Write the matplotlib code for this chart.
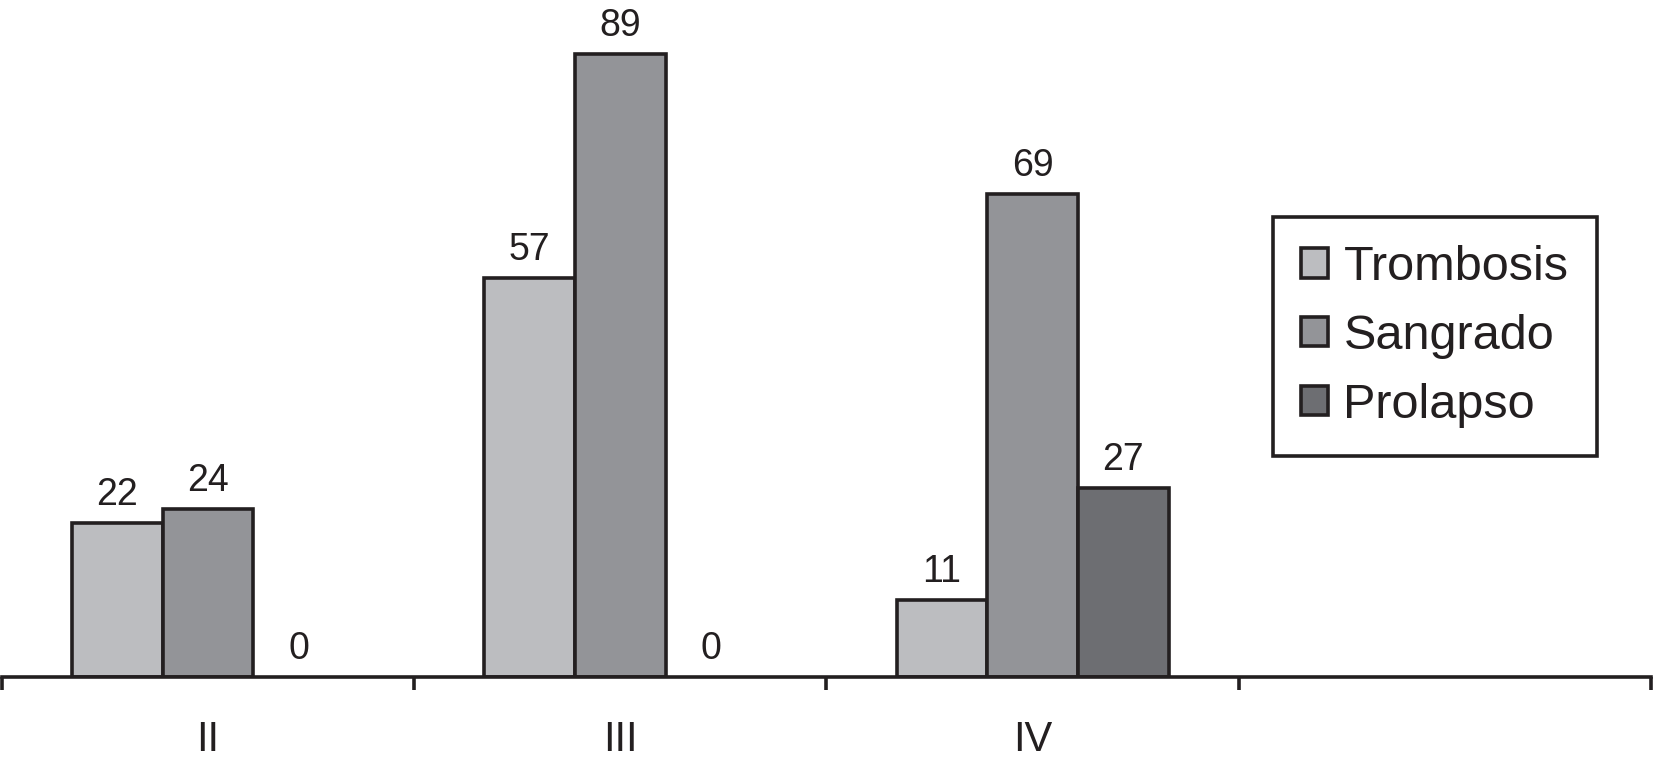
import matplotlib
matplotlib.use('Agg')
import matplotlib.pyplot as plt
from matplotlib.patches import Patch
import numpy as np

plt.rcParams['font.family'] = ['Liberation Sans', 'DejaVu Sans']

# Datos
categorias = ['II', 'III', 'IV', '']
trombosis = [22, 57, 11]
sangrado = [24, 89, 69]
prolapso = [0, 0, 27]
series = ['Trombosis', 'Sangrado', 'Prolapso']
colores = ['#bcbdc0', '#939498', '#6d6e72']

W, H = 1653, 761
fig = plt.figure(figsize=(W / 100, H / 100), dpi=100)
ax = fig.add_axes([2 / W, 84.3 / H, 1649 / W, 676.7 / H])

ancho = 0.22
x = np.arange(len(trombosis))
borde = '#231f20'
lw = 2.6

for i, (nombre, valores, color) in enumerate(zip(series, [trombosis, sangrado, prolapso], colores)):
  barras = ax.bar(x + (i - 1) * ancho, valores, ancho, color=color, edgecolor=borde,
                  linewidth=lw, zorder=2)
  # las barras en cero no se ven
  for b, v in zip(barras, valores):
    if v == 0:
      b.set_visible(False)
  ax.bar_label(barras, labels=[str(v) for v in valores], padding=7,
               fontsize=27, color=borde)

ax.set_xlim(-0.5, 3.5)
ax.set_ylim(0, 676.7 / 7.0)

for s in ['top', 'right', 'left']:
  ax.spines[s].set_visible(False)
ax.spines['bottom'].set_linewidth(lw)
ax.spines['bottom'].set_color(borde)
ax.spines['bottom'].set_zorder(3)
ax.set_yticks([])

# marcas entre categorías
ax.set_xticks(np.arange(len(categorias)))
ax.set_xticklabels(categorias, fontsize=30, color=borde)
ax.tick_params(axis='x', which='major', length=0, pad=31)
ax.set_xticks(np.arange(-0.5, len(categorias)), minor=True)
ax.tick_params(axis='x', which='minor', length=9.4, width=lw, color=borde, direction='out')

# Leyenda
handles = [Patch(facecolor=c, edgecolor=borde, linewidth=lw) for c in colores]
leg = fig.legend(handles, series, loc='upper left', bbox_to_anchor=(1273 / W, 1 - 217 / H),
                 fontsize=35, frameon=True, fancybox=False, framealpha=1, handlelength=0.55,
                 handleheight=0.55, handletextpad=0.32, labelspacing=0.49,
                 borderpad=0.58, borderaxespad=0)
leg.get_frame().set_edgecolor(borde)
leg.get_frame().set_linewidth(lw)
for t in leg.get_texts():
  t.set_color(borde)

fig.savefig('out.png', dpi=100)
